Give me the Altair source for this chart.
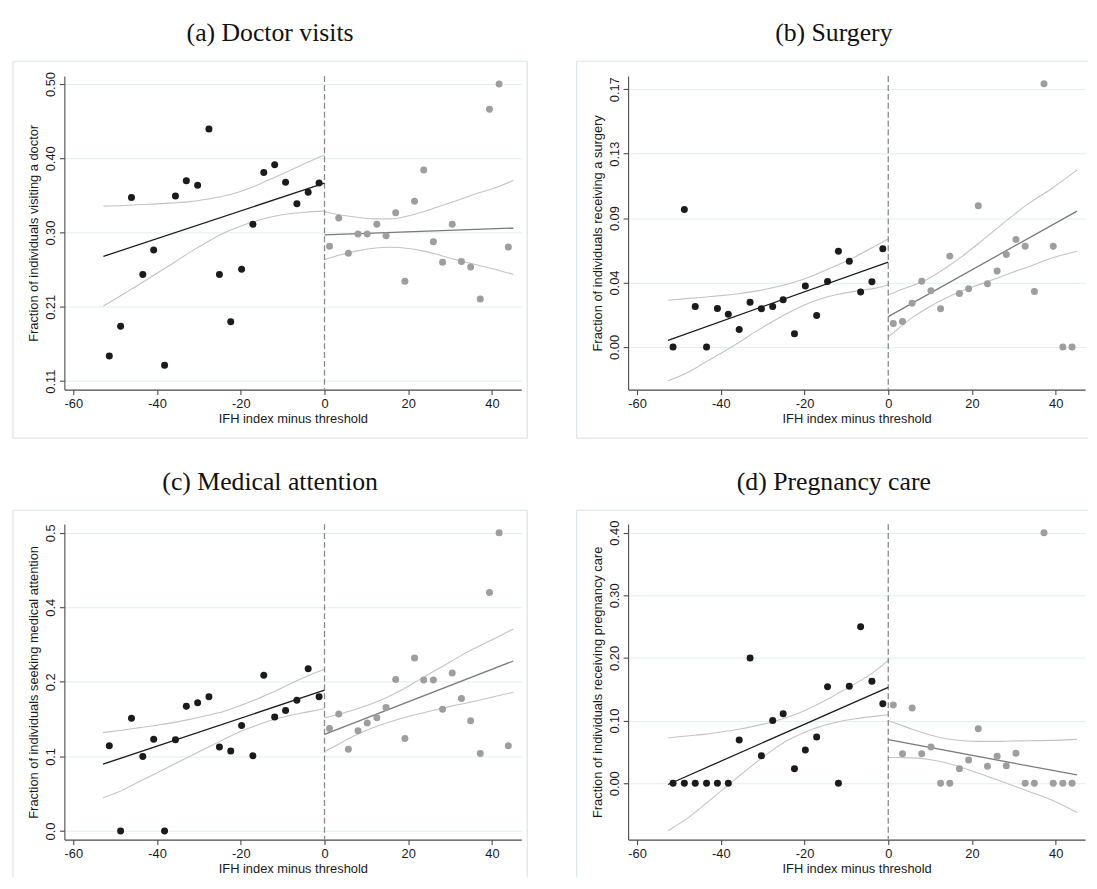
import altair as alt
import pandas as pd

# ---------------- data ----------------
x_left = [-51.4, -48.7, -46.1, -43.4, -40.8, -38.2, -35.6, -33.0, -30.3, -27.6,
          -25.1, -22.4, -19.8, -17.1, -14.5, -11.9, -9.3, -6.6, -3.9, -1.3]
x_right = [1.2, 3.4, 5.7, 8.0, 10.2, 12.5, 14.7, 17.0, 19.2, 21.5,
           23.7, 26.0, 28.2, 30.5, 32.7, 34.9, 37.2, 39.4, 41.7, 43.9]
x_ticks = [-60, -40, -20, 0, 20, 40]
cutoff = [0.0]

# (a) Doctor visits
a_left = [0.143, 0.182, 0.351, 0.250, 0.282, 0.131, 0.353, 0.373, 0.367, 0.441,
          0.250, 0.188, 0.257, 0.316, 0.384, 0.394, 0.371, 0.343, 0.358, 0.370]
a_right = [0.287, 0.324, 0.278, 0.303, 0.303, 0.316, 0.301, 0.331, 0.241, 0.346,
           0.387, 0.293, 0.266, 0.316, 0.267, 0.260, 0.218, 0.467, 0.500, 0.286]
a_fit_l_x = [-52.8, 0.0]
a_fit_l_y = [0.2738, 0.3699]
a_fit_r_x = [0.0, 45.1]
a_fit_r_y = [0.302, 0.311]
a_ci_l_x = [-52.8, -47.9, -44.0, -40.0, -36.1, -32.2, -28.2, -24.3, -20.4, -16.4, -12.5, -8.5, -4.6, 0.0]
a_ci_l_hi = [0.3397, 0.3405, 0.3418, 0.3427, 0.3440, 0.3457, 0.3488, 0.3527, 0.3583, 0.3665, 0.3761, 0.3860, 0.3960, 0.4070]
a_ci_l_lo = [0.2087, 0.2248, 0.2378, 0.2517, 0.2651, 0.2790, 0.2920, 0.3037, 0.3128, 0.3201, 0.3258, 0.3297, 0.3318, 0.3332]
a_ci_r_x = [0.0, 3.85, 7.8, 11.7, 15.6, 19.6, 23.5, 27.4, 31.3, 35.3, 41.9, 45.1]
a_ci_r_hi = [0.3328, 0.3281, 0.3251, 0.3230, 0.3230, 0.3264, 0.3324, 0.3392, 0.3465, 0.3542, 0.3662, 0.3733]
a_ci_r_lo = [0.2695, 0.2759, 0.2810, 0.2845, 0.2857, 0.2845, 0.2810, 0.2755, 0.2695, 0.2640, 0.2550, 0.2501]
a_ticks = [0.11, 0.2075, 0.305, 0.4025, 0.50]
a_tick_labels = ["0.11", "0.21", "0.30", "0.40", "0.50"]

# (b) Surgery
b_left = [0.0, 0.0928, 0.0273, 0.0, 0.0260, 0.0220, 0.0118, 0.0302, 0.0258, 0.0273,
          0.0318, 0.0089, 0.0411, 0.0213, 0.0442, 0.0646, 0.0578, 0.0371, 0.0440, 0.0662]
b_right = [0.0158, 0.0171, 0.0295, 0.0444, 0.0380, 0.0258, 0.0613, 0.0360, 0.0393, 0.0953,
           0.0426, 0.0513, 0.0624, 0.0726, 0.0680, 0.0375, 0.1777, 0.0680, 0.0, 0.0]
b_fit_l_x = [-52.6, 0.0]
b_fit_l_y = [0.0045, 0.0573]
b_fit_r_x = [0.0, 45.1]
b_fit_r_y = [0.0205, 0.0917]
b_ci_l_x = [-52.6, -47.4, -43.5, -39.5, -35.5, -31.6, -27.6, -23.6, -19.6, -15.7, -11.7, -7.7, -3.0, 0.0]
b_ci_l_hi = [0.0315, 0.0328, 0.0337, 0.0348, 0.0361, 0.0377, 0.0399, 0.0428, 0.0464, 0.0509, 0.0558, 0.0611, 0.0683, 0.0729]
b_ci_l_lo = [-0.0228, -0.0165, -0.0100, -0.0036, 0.0033, 0.0105, 0.0172, 0.0234, 0.0288, 0.0328, 0.0357, 0.0377, 0.0397, 0.0418]
b_ci_r_x = [0.0, 2.0, 5.9, 9.8, 13.8, 17.7, 21.6, 25.6, 29.5, 33.4, 38.9, 45.1]
b_ci_r_hi = [0.0352, 0.0375, 0.0415, 0.0464, 0.0535, 0.0613, 0.0700, 0.0792, 0.0881, 0.0966, 0.1066, 0.1195]
b_ci_r_lo = [0.0069, 0.0114, 0.0201, 0.0270, 0.0330, 0.0379, 0.0419, 0.0460, 0.0502, 0.0540, 0.0598, 0.0646]
b_ticks = [0.0, 0.04348, 0.08696, 0.13043, 0.17391]
b_tick_labels = ["0.00", "0.04", "0.09", "0.13", "0.17"]

# (c) Medical attention
c_left = [0.143, 0.0, 0.189, 0.125, 0.154, 0.0, 0.153, 0.209, 0.215, 0.225,
          0.141, 0.134, 0.177, 0.126, 0.261, 0.191, 0.202, 0.219, 0.272, 0.225]
c_right = [0.172, 0.196, 0.137, 0.168, 0.181, 0.190, 0.207, 0.254, 0.155, 0.290,
           0.253, 0.253, 0.204, 0.265, 0.222, 0.185, 0.130, 0.400, 0.500, 0.143]
c_fit_l_x = [-52.9, 0.0]
c_fit_l_y = [0.112, 0.236]
c_fit_r_x = [0.0, 45.1]
c_fit_r_y = [0.162, 0.285]
c_ci_l_x = [-52.9, -48.0, -44.1, -40.1, -36.2, -32.2, -28.3, -24.3, -20.4, -16.4, -12.5, -8.5, -4.6, 0.0]
c_ci_l_hi = [0.1650, 0.1694, 0.1733, 0.1772, 0.1817, 0.1872, 0.1933, 0.2000, 0.2094, 0.2206, 0.2322, 0.2456, 0.2583, 0.2710]
c_ci_l_lo = [0.0556, 0.0694, 0.0833, 0.0972, 0.1111, 0.1250, 0.1389, 0.1528, 0.1661, 0.1767, 0.1861, 0.1933, 0.1989, 0.2050]
c_ci_r_x = [0.0, 2.8, 6.7, 10.6, 14.6, 18.5, 22.4, 26.4, 30.3, 34.2, 40.9, 45.1]
c_ci_r_hi = [0.1897, 0.1946, 0.2024, 0.2115, 0.2230, 0.2368, 0.2525, 0.2690, 0.2845, 0.3003, 0.3235, 0.3387]
c_ci_r_lo = [0.1333, 0.1433, 0.1583, 0.1706, 0.1806, 0.1889, 0.1961, 0.2028, 0.2094, 0.2150, 0.2260, 0.2326]
c_ticks = [0.0, 0.125, 0.25, 0.375, 0.5]
c_tick_labels = ["0.0", "0.1", "0.2", "0.4", "0.5"]

# (d) Pregnancy care
d_left = [0.0, 0.0, 0.0, 0.0, 0.0, 0.0, 0.069, 0.200, 0.044, 0.100,
          0.111, 0.023, 0.053, 0.074, 0.154, 0.0, 0.155, 0.250, 0.163, 0.127]
d_right = [0.125, 0.047, 0.120, 0.047, 0.058, 0.0, 0.0, 0.023, 0.037, 0.087,
           0.027, 0.043, 0.028, 0.048, 0.0, 0.0, 0.400, 0.0, 0.0, 0.0]
d_fit_l_x = [-52.6, 0.0]
d_fit_l_y = [-0.002, 0.1532]
d_fit_r_x = [0.0, 45.1]
d_fit_r_y = [0.0695, 0.0132]
d_ci_l_x = [-52.6, -47.5, -43.5, -39.6, -35.7, -31.7, -27.8, -23.9, -19.9, -16.0, -12.1, -8.2, -3.4, 0.0]
d_ci_l_hi = [0.0726, 0.0758, 0.0784, 0.0821, 0.0863, 0.0916, 0.0979, 0.1058, 0.1163, 0.1289, 0.1432, 0.1579, 0.1779, 0.1963]
d_ci_l_lo = [-0.0758, -0.0537, -0.0321, -0.0105, 0.0111, 0.0326, 0.0521, 0.0689, 0.0816, 0.0911, 0.0979, 0.1026, 0.1068, 0.1095]
d_ci_r_x = [0.0, 2.0, 5.9, 9.8, 13.8, 17.7, 21.6, 25.6, 29.5, 33.4, 38.9, 45.1]
d_ci_r_hi = [0.1000, 0.0953, 0.0858, 0.0774, 0.0711, 0.0679, 0.0668, 0.0668, 0.0674, 0.0679, 0.0684, 0.0700]
d_ci_r_lo = [0.0411, 0.0411, 0.0405, 0.0379, 0.0326, 0.0247, 0.0158, 0.0063, -0.0032, -0.0126, -0.0263, -0.0468]
d_ticks = [0.0, 0.1, 0.2, 0.3, 0.4]
d_tick_labels = ["0.00", "0.10", "0.20", "0.30", "0.40"]

# ---------------- styling / layout constants ----------------
PW = 462
X_DOMAIN = [-62.13, 47.0]
SANS = "Liberation Sans"
SERIF = "Liberation Serif"
BLACK = "#1b1b1b"
GREY_PT = "#9e9e9e"
GREY_FIT = "#7a7a7a"
CI_COL = "#c3c3c3"
FRAME_COL = "#dae4e9"


def label_expr(values, labels):
    parts = []
    for v, lab in zip(values[:-1], labels[:-1]):
        parts.append(f"datum.value < {v + 1e-4} ? '{lab}' : ")
    return "".join(parts) + f"'{labels[-1]}'"


def one_row():
    return alt.Data(values=[{"k": 0}])


def panel(title, ytitle, ydom, yticks, ylabels, yl, yr, fits, cis, height, frame):
    xs = alt.Scale(domain=X_DOMAIN, nice=False, zero=False)
    ys = alt.Scale(domain=ydom, nice=False, zero=False)
    xaxis = alt.Axis(values=x_ticks, title="IFH index minus threshold", grid=False,
                     labelExpr="'' + datum.value", labelPadding=3, labelFlush=False,
                     titleY=33, titleBaseline="alphabetic")
    yaxis = alt.Axis(values=yticks, title=ytitle, grid=True, labelExpr=label_expr(yticks, ylabels),
                     labelAngle=270, labelAlign="center", labelBaseline="alphabetic",
                     labelPadding=5, labelFlush=False, labelOverlap=False,
                     titleAngle=270, titleAlign="center", titleBaseline="alphabetic",
                     titleX=-27, titleY=height / 2)
    X = lambda: alt.X("x:Q", scale=xs, axis=xaxis)
    Y = lambda: alt.Y("y:Q", scale=ys, axis=yaxis)

    layers = []
    # panel frame (decoration)
    for (fx, fy, fx2, fy2) in frame:
        layers.append(alt.Chart(one_row()).mark_rule(color=FRAME_COL, strokeWidth=1.2).encode(
            x=alt.value(fx), y=alt.value(fy), x2=alt.value(fx2), y2=alt.value(fy2)))
    # panel title
    layers.append(alt.Chart(one_row()).mark_text(font=SERIF, fontSize=26, align="center",
                                                  baseline="alphabetic", color="#111").encode(
        x=alt.value(208), y=alt.value(-35), text=alt.value(title)))

    # CI curves
    ci_rows = []
    for side, (cx, hi, lo) in cis.items():
        for xv, h, l in zip(cx, hi, lo):
            ci_rows.append({"x": xv, "y": h, "curve": side + "_hi"})
            ci_rows.append({"x": xv, "y": l, "curve": side + "_lo"})
    ci_df = pd.DataFrame(ci_rows)
    layers.append(alt.Chart(ci_df).mark_line(color=CI_COL, strokeWidth=1.1, interpolate="monotone").encode(
        x=X(), y=Y(), detail="curve:N"))

    # cutoff
    layers.append(alt.Chart(pd.DataFrame({"x": cutoff})).mark_rule(
        color="#8a8a8a", strokeWidth=1.3, strokeDash=[6, 3]).encode(x=X()))

    # fitted lines
    (flx, fly), (frx, fry) = fits
    layers.append(alt.Chart(pd.DataFrame({"x": flx, "y": fly})).mark_line(
        color=BLACK, strokeWidth=1.3).encode(x=X(), y=Y()))
    layers.append(alt.Chart(pd.DataFrame({"x": frx, "y": fry})).mark_line(
        color=GREY_FIT, strokeWidth=1.3).encode(x=X(), y=Y()))

    # binned means
    layers.append(alt.Chart(pd.DataFrame({"x": x_left, "y": yl})).mark_circle(
        color=BLACK, size=50, opacity=1).encode(x=X(), y=Y()))
    layers.append(alt.Chart(pd.DataFrame({"x": x_right, "y": yr})).mark_circle(
        color=GREY_PT, size=50, opacity=1).encode(x=X(), y=Y()))

    return alt.layer(*layers).properties(width=PW, height=height)


H1 = 317
H2 = 319
frame_a = [(-52, -15, -52, H1 + 49), (PW + 6, -15, PW + 6, H1 + 49),
           (-52, -15, PW + 6, -15), (-52, H1 + 49, PW + 6, H1 + 49)]
frame_b = [(-52, -15, -52, H1 + 49), (-52, -15, PW + 3, -15), (-52, H1 + 49, PW + 3, H1 + 49)]
frame_c = [(-52, -14, -52, H2 + 38), (PW + 6, -14, PW + 6, H2 + 38), (-52, -14, PW + 6, -14)]
frame_d = [(-52, -14, -52, H2 + 38), (-52, -14, PW + 3, -14)]

pa = panel("(a) Doctor visits", "Fraction of individuals visiting a doctor",
           [0.0989, 0.5104], a_ticks, a_tick_labels, a_left, a_right,
           ((a_fit_l_x, a_fit_l_y), (a_fit_r_x, a_fit_r_y)),
           {"l": (a_ci_l_x, a_ci_l_hi, a_ci_l_lo), "r": (a_ci_r_x, a_ci_r_hi, a_ci_r_lo)},
           H1, frame_a)
pb = panel("(b) Surgery", "Fraction of individuals receiving a surgery",
           [-0.0288, 0.1828], b_ticks, b_tick_labels, b_left, b_right,
           ((b_fit_l_x, b_fit_l_y), (b_fit_r_x, b_fit_r_y)),
           {"l": (b_ci_l_x, b_ci_l_hi, b_ci_l_lo), "r": (b_ci_r_x, b_ci_r_hi, b_ci_r_lo)},
           H1, frame_b)
pc = panel("(c) Medical attention", "Fraction of individuals seeking medical attention",
           [-0.0144, 0.5144], c_ticks, c_tick_labels, c_left, c_right,
           ((c_fit_l_x, c_fit_l_y), (c_fit_r_x, c_fit_r_y)),
           {"l": (c_ci_l_x, c_ci_l_hi, c_ci_l_lo), "r": (c_ci_r_x, c_ci_r_hi, c_ci_r_lo)},
           H2, frame_c)
pd_ = panel("(d) Pregnancy care", "Fraction of individuals receiving pregnancy care",
            [-0.09, 0.4137], d_ticks, d_tick_labels, d_left, d_right,
            ((d_fit_l_x, d_fit_l_y), (d_fit_r_x, d_fit_r_y)),
            {"l": (d_ci_l_x, d_ci_l_hi, d_ci_l_lo), "r": (d_ci_r_x, d_ci_r_hi, d_ci_r_lo)},
            H2, frame_d)

row1 = alt.hconcat(pa, pb, spacing=48)
row2 = alt.hconcat(pc, pd_, spacing=48)
chart = alt.vconcat(row1, row2, spacing=30).properties(
    padding={"left": 4, "top": 8, "right": 0, "bottom": 0},
    background="white",
).configure_view(stroke=None).configure_axis(
    domainColor="#4a4a4a", tickColor="#4a4a4a", domainWidth=1.1, tickWidth=1.1, tickSize=5,
    labelFont=SANS, titleFont=SANS, labelFontSize=13, titleFontSize=13,
    labelColor="#1a1a1a", titleColor="#1a1a1a", titleFontWeight="normal",
    gridColor="#e4edf0", gridWidth=1,
)

chart.save("out.html", embed_options={"renderer": "svg", "actions": False})
